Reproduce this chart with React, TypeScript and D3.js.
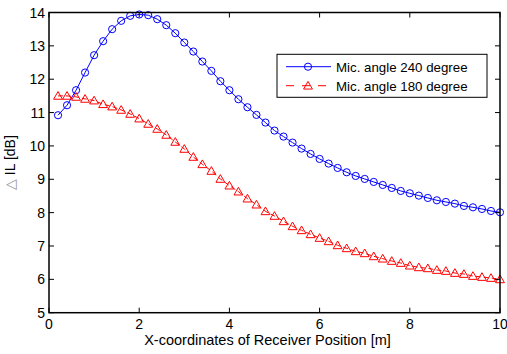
import React from "react";
import * as d3 from "d3";

const xs = d3.range(1, 51).map((i) => +(i * 0.2).toFixed(1));

const angle240 = [
  10.92, 11.22, 11.67, 12.2, 12.72, 13.14, 13.5, 13.75, 13.9, 13.94,
  13.92, 13.8, 13.62, 13.38, 13.1, 12.83, 12.53, 12.25, 11.94, 11.67,
  11.4, 11.16, 10.93, 10.7, 10.46, 10.28, 10.1, 9.92, 9.76, 9.61,
  9.47, 9.34, 9.21, 9.1, 9.01, 8.92, 8.83, 8.74, 8.65, 8.58,
  8.51, 8.44, 8.37, 8.32, 8.27, 8.2, 8.16, 8.11, 8.05, 8.01,
];

const angle180 = [
  11.5, 11.5, 11.47, 11.41, 11.36, 11.25, 11.18, 11.08, 10.96, 10.82,
  10.66, 10.51, 10.33, 10.12, 9.91, 9.67, 9.45, 9.25, 9.01, 8.81,
  8.63, 8.42, 8.24, 8.04, 7.9, 7.74, 7.59, 7.47, 7.35, 7.24,
  7.14, 7.02, 6.93, 6.84, 6.78, 6.69, 6.62, 6.55, 6.49, 6.41,
  6.36, 6.33, 6.28, 6.25, 6.19, 6.16, 6.1, 6.07, 6.04, 6.0,
];

const xTicks = [0, 2, 4, 6, 8, 10];
const yTicks = [5, 6, 7, 8, 9, 10, 11, 12, 13, 14];
const seriesNames = ["Mic. angle 240 degree", "Mic. angle 180 degree"];

const W = 507;
const H = 354;
const m = { left: 49, right: 7, top: 12.5, bottom: 41.3 };
const font = "Arial, 'Liberation Sans', sans-serif";

const App = () => {
  const x = d3.scaleLinear().domain([0, 10]).range([m.left, W - m.right]);
  const y = d3.scaleLinear().domain([5, 14]).range([H - m.bottom, m.top]);

  const line = d3
    .line<number>()
    .x((_, i) => x(xs[i]))
    .y((d) => y(d));

  const tri = d3.symbol(d3.symbolTriangle, 34)() as string;
  const tk = 5;

  return (
    <svg width={W} height={H} style={{ position: "absolute", left: 0, top: 0, background: "#fff" }} fontFamily={font}>
      <rect x={0} y={0} width={W} height={H} fill="#fff" />

      <path d={line(angle240) || ""} fill="none" stroke="#0000ff" strokeWidth={1} />
      {angle240.map((v, i) => (
        <circle key={"b" + i} cx={x(xs[i])} cy={y(v)} r={3.6} fill="none" stroke="#0000ff" strokeWidth={1} />
      ))}

      <path d={line(angle180) || ""} fill="none" stroke="#ff0000" strokeWidth={1} strokeDasharray="5,3" />
      {angle180.map((v, i) => (
        <path key={"r" + i} d={tri} transform={`translate(${x(xs[i])},${y(v) + 0.8})`} fill="none" stroke="#ff0000" strokeWidth={1} />
      ))}

      {/* frame */}
      <rect x={m.left} y={m.top} width={W - m.right - m.left} height={H - m.bottom - m.top} fill="none" stroke="#000" strokeWidth={1.5} />

      {xTicks.map((t) => (
        <g key={"xt" + t}>
          <line x1={x(t)} x2={x(t)} y1={H - m.bottom} y2={H - m.bottom - tk} stroke="#000" />
          <line x1={x(t)} x2={x(t)} y1={m.top} y2={m.top + tk} stroke="#000" />
          <text x={x(t)} y={328.5} textAnchor="middle" fontSize={14} fill="#000">{t}</text>
        </g>
      ))}
      {yTicks.map((t) => (
        <g key={"yt" + t}>
          <line x1={m.left} x2={m.left + tk} y1={y(t)} y2={y(t)} stroke="#000" />
          <line x1={W - m.right} x2={W - m.right - tk} y1={y(t)} y2={y(t)} stroke="#000" />
          <text x={m.left - 4} y={y(t) + 5} textAnchor="end" fontSize={14} fill="#000">{t}</text>
        </g>
      ))}

      <text x={(m.left + W - m.right) / 2 - 7} y={345} textAnchor="middle" fontSize={14.5} fill="#000">
        X-coordinates of Receiver Position [m]
      </text>
      <text transform={`translate(15,${(m.top + H - m.bottom) / 2}) rotate(-90)`} textAnchor="middle" fontSize={14} fill="#000">
        <tspan fill="#999">△</tspan> IL [dB]
      </text>

      {/* legend */}
      <g>
        <rect x={277} y={54.3} width={210} height={43} fill="#fff" stroke="#000" strokeWidth={1} />
        <line x1={286} x2={331} y1={66.7} y2={66.7} stroke="#0000ff" />
        <circle cx={308} cy={66.7} r={3.6} fill="none" stroke="#0000ff" />
        <text x={336} y={71.5} fontSize={13.3} fill="#000">{seriesNames[0]}</text>
        <line x1={286} x2={331} y1={85.7} y2={85.7} stroke="#ff0000" strokeDasharray="8,8" />
        <path d={tri} transform={`translate(308,${85.7 + 0.8})`} fill="none" stroke="#ff0000" />
        <text x={336} y={90.5} fontSize={13.3} fill="#000">{seriesNames[1]}</text>
      </g>
    </svg>
  );
};

export default App;
